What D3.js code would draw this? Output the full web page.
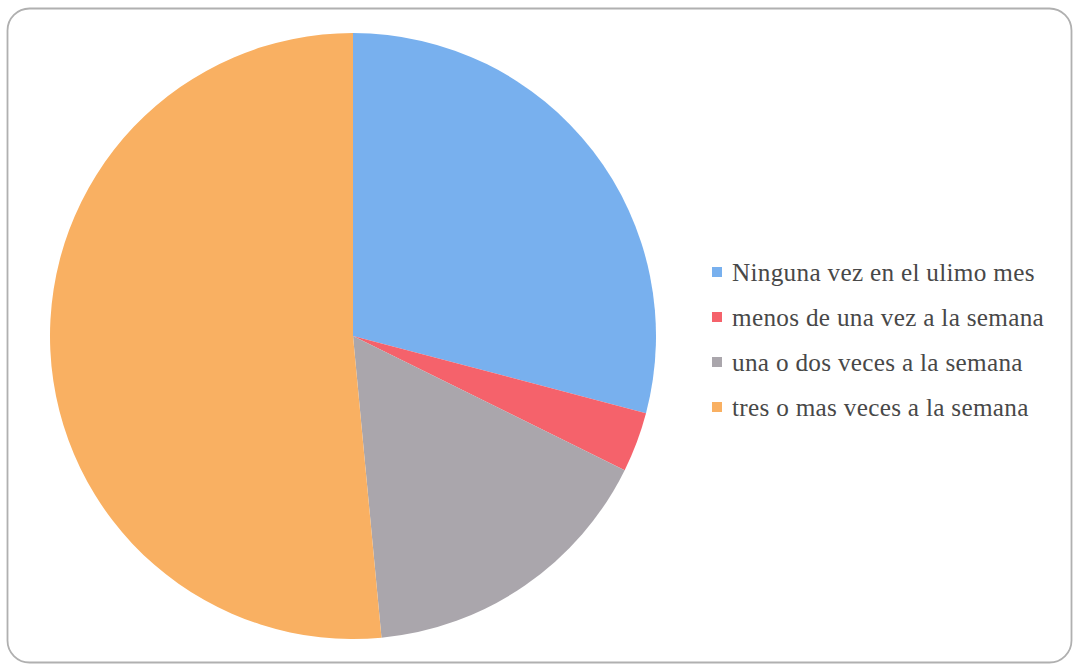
<!DOCTYPE html>
<html>
<head>
<meta charset="utf-8">
<script src="https://cdn.jsdelivr.net/npm/d3@7/dist/d3.min.js"></script>
<style>
  html, body { margin: 0; padding: 0; background: #ffffff; }
  svg { display: block; }
</style>
</head>
<body>
<svg id="chart" width="1073" height="665"></svg>
<script>
// Frecuencia: categorías, porcentajes y colores
const categories = [
  "Ninguna vez en el ulimo mes",
  "menos de una vez a la semana",
  "una o dos veces a la semana",
  "tres o mas veces a la semana"
];
const values = [29.1, 3.2, 16.2, 51.5];
const colors = ["#78b0ee", "#f5626b", "#aaa6ac", "#f9b062"];

const svg = d3.select("#chart");
const W = 1073, H = 665;

// Marco redondeado
svg.append("rect")
  .attr("x", 7.5).attr("y", 8.5)
  .attr("width", W - 9).attr("height", H - 11)
  .attr("rx", 22).attr("ry", 22)
  .attr("fill", "#ffffff")
  .attr("stroke", "#b0b0b0")
  .attr("stroke-width", 1.8);

// Pastel
const cx = 353, cy = 336, r = 303;
const data = categories.map((c, i) => ({ name: c, value: values[i], color: colors[i] }));
const pie = d3.pie().value(d => d.value).sort(null);
const arc = d3.arc().innerRadius(0).outerRadius(r);

const g = svg.append("g").attr("transform", `translate(${cx},${cy})`);
g.selectAll("path")
  .data(pie(data))
  .join("path")
  .attr("d", arc)
  .attr("fill", d => d.data.color);

// Leyenda
const legend = svg.append("g").attr("transform", "translate(712,0)");
const rowY = d3.scalePoint().domain(categories).range([272, 407]);
const items = legend.selectAll("g.item")
  .data(data)
  .join("g")
  .attr("class", "item")
  .attr("transform", d => `translate(0,${rowY(d.name)})`);

items.append("rect")
  .attr("x", 0).attr("y", -5)
  .attr("width", 10).attr("height", 10)
  .attr("fill", d => d.color);

const labels = items.append("text")
  .attr("x", 20).attr("y", 0)
  .attr("dy", "0.34em")
  .attr("fill", "#484848")
  .style("font-family", "'Liberation Serif', 'DejaVu Serif', serif")
  .style("font-size", "20px")
  .style("letter-spacing", "0.3px")
  .text(d => d.name);

// Ajusta el tamaño para que la primera etiqueta mida ~305 px
const base = labels.node().getComputedTextLength();
const fs = 20 * 305 / base;
labels.style("font-size", fs.toFixed(2) + "px");
</script>
</body>
</html>
